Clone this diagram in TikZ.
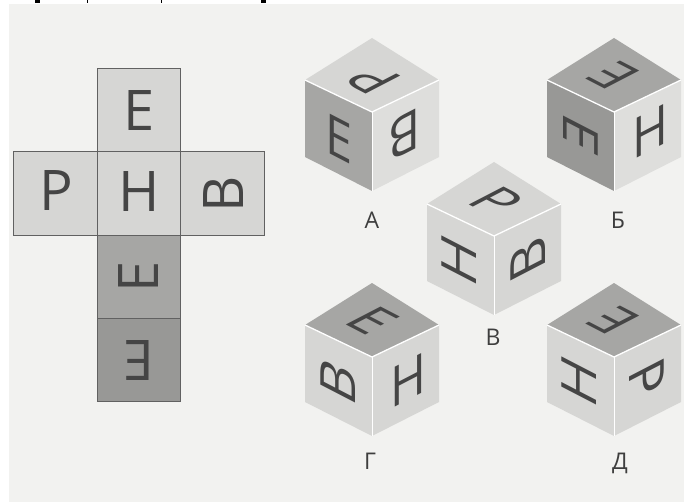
\documentclass[tikz,border=0pt]{standalone}
\usepackage{fontspec}
\setmainfont{Open Sans}

\definecolor{paper}{HTML}{F2F2F0}
\definecolor{lightface}{HTML}{D6D6D4}
\definecolor{paleface}{HTML}{DEDEDC}
\definecolor{darkface}{HTML}{A6A6A4}
\definecolor{deepface}{HTML}{989896}
\definecolor{ink}{HTML}{454545}

\tikzset{
    cell/.style={draw=ink!85, line width=0.9pt, minimum size=83.5pt, inner sep=0pt,
        text=ink, font=\fontsize{56}{56}\selectfont},
    netletter/.style={inner sep=0pt, text=ink, font=\fontsize{56}{56}\selectfont},
    letter/.style={inner sep=0pt, text=ink, font=\fontsize{60}{60}\selectfont},
    caption/.style={inner sep=0pt, text=ink!90!black, font=\fontsize{23}{23}\selectfont},
    % letter on the top face, a quarter turn at a time
    topzero/.style={cm={.81,-.42,.81,.42,(0,0)}},
    tophalf/.style={cm={-.81,.42,-.81,-.42,(0,0)}},
    % letter on the left face
    leftzero/.style={cm={.81,-.42,0,.93,(0,0)}},
    leftquarter/.style={cm={0,.93,-.81,.42,(0,0)}},
    leftthree/.style={cm={0,-.93,.81,-.42,(0,0)}},
    % letter on the right face
    rightzero/.style={cm={.81,.42,0,.93,(0,0)}},
    rightquarter/.style={cm={0,.93,-.81,-.42,(0,0)}},
    righthalf/.style={cm={-.81,-.42,0,-.93,(0,0)}},
    rightthree/.style={cm={0,-.93,.81,.42,(0,0)}},
}

% three faces of a cube around its front corner
\newcommand{\cubefaces}[3]{
    \fill[#1] (0,0) -- (67,-32) -- (0,-74) -- (-67,-32) -- cycle;
    \fill[#2] (0,0) -- (-67,-32) -- (-67,45) -- (0,79) -- cycle;
    \fill[#3] (0,0) -- (67,-32) -- (67,45) -- (0,79) -- cycle;
    \draw[white, line width=1.3pt] (-67,-32) -- (0,0) -- (67,-32);
    \draw[white, line width=0.8pt] (0,0) -- (0,79);
}

\begin{document}
\begin{tikzpicture}[x=1pt, y=-1pt]

    \useasboundingbox (0,0) rectangle (684,502);
    \fill[white] (0,0) rectangle (684,502);
    \fill[paper] (9,4) rectangle (684,502);

    % cut edge of the line of print above
    \foreach \xa/\xb in {35/40, 87/88, 161/162, 261/266}
        \fill[black] (\xa,0) rectangle (\xb,3);

    % =================================================================
    % NET OF THE CUBE
    % =================================================================
    \node[cell, fill=lightface] (netTop) at (139,110.5) {Е};
    \node[cell, fill=lightface] (netLeft) at (55.5,193.5) {};
    \node[cell, fill=lightface] (netRight) at (222.5,193.5) {};
    \node[cell, fill=darkface, rotate=90] (netLow) at (139,277) {Е};
    \node[cell, fill=deepface, rotate=180] (netBottom) at (139,360) {Е};
    \node[cell, fill=lightface] (netMid) at (139,193.5) {};
    \node[netletter] (netH) at (139,191.5) {Н};
    \node[netletter] (netP) at (56,191) {Р};
    \node[netletter, rotate=90] (netV) at (224,194) {В};

    % =================================================================
    % CUBE A
    % =================================================================
    \begin{scope}[shift={(372,112)}]
        \cubefaces{lightface}{darkface}{paleface}
        \node[letter, tophalf] (aTop) at (2,-32) {Р};
        \node[letter, leftzero] (aLeft) at (-33,27) {Е};
        \node[letter, righthalf] (aRight) at (33,23) {В};
    \end{scope}
    \node[caption] (capA) at (372,220) {А};

    % =================================================================
    % CUBE B (Б)
    % =================================================================
    \begin{scope}[shift={(614,112)}]
        \cubefaces{darkface}{deepface}{paleface}
        \node[letter, tophalf] (bTop) at (0,-37) {Е};
        \node[letter, leftthree] (bLeft) at (-33,23) {Е};
        \node[letter, rightzero] (bRight) at (36,19) {Н};
    \end{scope}
    \node[caption] (capB) at (618,220) {Б};

    % =================================================================
    % CUBE V (В)
    % =================================================================
    \begin{scope}[shift={(494,236)}]
        \cubefaces{lightface}{lightface}{lightface}
        \node[letter, topzero] (vTop) at (2,-35) {Р};
        \node[letter, leftquarter] (vLeft) at (-35,24) {Н};
        \node[letter, rightquarter] (vRight) at (34,23) {В};
    \end{scope}
    \node[caption] (capV) at (493,337) {В};

    % =================================================================
    % CUBE G (Г)
    % =================================================================
    \begin{scope}[shift={(372,357)}]
        \cubefaces{darkface}{lightface}{lightface}
        \node[letter, topzero] (gTop) at (0,-36) {Е};
        \node[letter, leftquarter] (gLeft) at (-34,24) {В};
        \node[letter, rightzero] (gRight) at (36,23) {Н};
    \end{scope}
    \node[caption] (capG) at (370,461) {Г};

    % =================================================================
    % CUBE D (Д)
    % =================================================================
    \begin{scope}[shift={(614,357)}]
        \cubefaces{darkface}{lightface}{lightface}
        \node[letter, tophalf] (dTop) at (0,-37) {Е};
        \node[letter, leftquarter] (dLeft) at (-35,24) {Н};
        \node[letter, rightthree] (dRight) at (33,22) {Р};
    \end{scope}
    \node[caption] (capD) at (620,463) {Д};

\end{tikzpicture}
\end{document}
